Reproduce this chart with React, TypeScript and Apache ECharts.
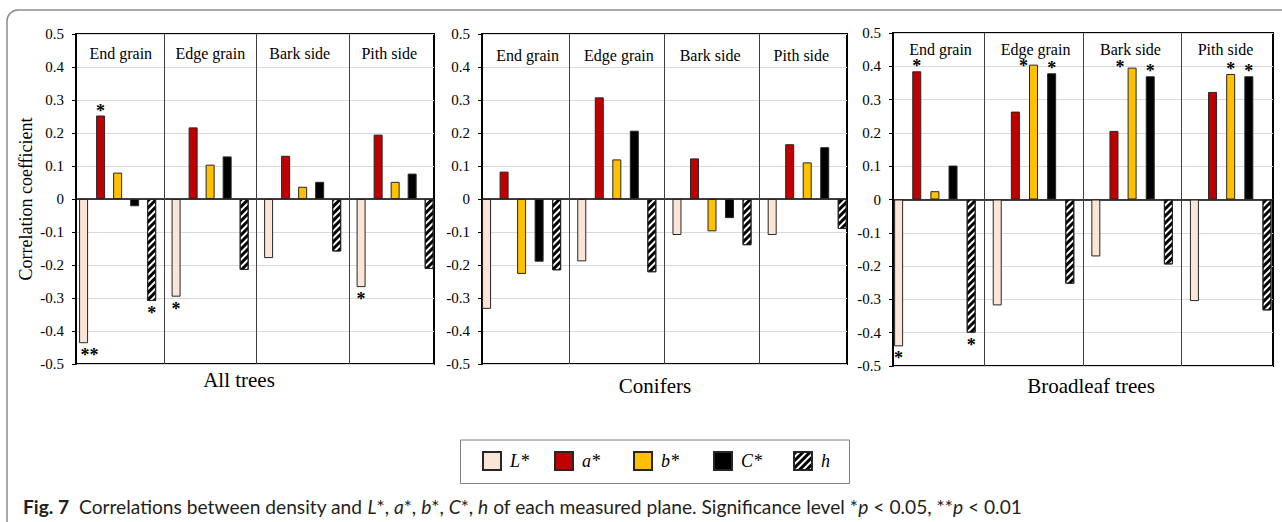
import React, { useEffect, useRef } from 'react';
import * as echarts from 'echarts';

// ---------- data ----------
const groups = ['End grain', 'Edge grain', 'Bark side', 'Pith side'];
const seriesNames = ['L*', 'a*', 'b*', 'C*', 'h'];
const panelTitles = ['All trees', 'Conifers', 'Broadleaf trees'];

// All trees
const allL = [-0.437, -0.296, -0.179, -0.267];
const allA = [0.253, 0.217, 0.131, 0.195];
const allB = [0.08, 0.104, 0.037, 0.052];
const allC = [-0.022, 0.129, 0.052, 0.077];
const allH = [-0.309, -0.215, -0.159, -0.212];
const allSig = [['**', '*', '', '*'], ['*', '', '', ''], ['', '', '', ''], ['', '', '', ''], ['*', '', '', '']];

// Conifers
const conL = [-0.333, -0.189, -0.109, -0.109];
const conA = [0.083, 0.308, 0.123, 0.166];
const conB = [-0.227, 0.12, -0.098, 0.111];
const conC = [-0.19, 0.207, -0.058, 0.157];
const conH = [-0.216, -0.222, -0.14, -0.091];
const conSig = [['', '', '', ''], ['', '', '', ''], ['', '', '', ''], ['', '', '', ''], ['', '', '', '']];

// Broadleaf trees
const brL = [-0.441, -0.318, -0.171, -0.305];
const brA = [0.385, 0.264, 0.206, 0.323];
const brB = [0.025, 0.405, 0.396, 0.377];
const brC = [0.102, 0.379, 0.37, 0.37];
const brH = [-0.4, -0.253, -0.195, -0.333];
const brSig = [['*', '', '', ''], ['*', '', '', ''], ['', '*', '*', '*'], ['', '*', '*', '*'], ['*', '', '', '']];

const yTicks = { min: -0.5, max: 0.5, step: 0.1 };

// ---------- styles ----------
const panels = [
  { values: [allL, allA, allB, allC, allH], sig: allSig, grid: { left: 76, top: 34, width: 358, height: 330 }, xr: [0.05, 3.92], labelMargin: 11, title: [239, 369] },
  { values: [conL, conA, conB, conC, conH], sig: conSig, grid: { left: 482, top: 34, width: 365, height: 330 }, xr: [0.084, 3.918], labelMargin: 13, title: [655, 375] },
  { values: [brL, brA, brB, brC, brH], sig: brSig, grid: { left: 893, top: 33, width: 380, height: 333 }, xr: [0.075, 3.929], labelMargin: 8, title: [1091, 375] },
];

const SERIF = 'Liberation Serif';
const barStep = 0.184;
const fills = ['#FBE5D6', '#C00000', '#FFC000', '#000000', '#ffffff'];
const hatch = {
  symbol: 'rect',
  symbolSize: 1,
  color: '#000',
  backgroundColor: '#fff',
  dashArrayX: [1, 0],
  dashArrayY: [2.5, 2],
  rotation: -Math.PI / 4,
};
const legendX = [482, 554, 633, 713, 793];
const legendBox = { x: 460.5, y: 440, width: 389, height: 43.5 };

// label shifts for a few asterisks [panel-series-group]
const starShift: Record<string, number[]> = {
  '0-0-0': [6, 0],
  '2-2-1': [-10, 6],
  '2-2-2': [-12, 4],
};

function buildOption() {
  const grid: any[] = [];
  const xAxis: any[] = [];
  const yAxis: any[] = [];
  const series: any[] = [];

  panels.forEach((p, pi) => {
    grid.push({ ...p.grid, show: true, borderColor: '#000', borderWidth: 2, backgroundColor: 'transparent' });
    xAxis.push({
      gridIndex: pi,
      type: 'value',
      min: p.xr[0],
      max: p.xr[1],
      axisLine: { show: true, onZero: true, lineStyle: { color: '#000', width: 1.5 } },
      axisTick: { show: false },
      axisLabel: { show: false },
      splitLine: { show: false },
    });
    xAxis.push({
      gridIndex: pi,
      type: 'category',
      data: groups,
      position: 'top',
      boundaryGap: true,
      axisLine: { show: false },
      axisTick: { show: false },
      splitLine: { show: false },
      axisLabel: { inside: true, interval: 0, margin: p.labelMargin, fontFamily: SERIF, fontSize: 16, color: '#000' },
    });
    yAxis.push({
      gridIndex: pi,
      type: 'value',
      min: yTicks.min,
      max: yTicks.max,
      interval: yTicks.step,
      name: pi === 0 ? 'Correlation coefficient' : '',
      nameLocation: 'middle',
      nameRotate: 90,
      nameGap: 41,
      nameTextStyle: { fontFamily: SERIF, fontSize: 18, color: '#000' },
      axisLine: { show: true, lineStyle: { color: '#000', width: 2 } },
      axisTick: { show: true, length: 4, lineStyle: { color: '#000' } },
      axisLabel: { fontFamily: SERIF, fontSize: 15, color: '#000', margin: 12 },
      splitLine: { show: true, lineStyle: { color: '#d9d9d9', width: 1 } },
    });

    p.values.forEach((vals, si) => {
      const data = vals.map((v, g) => {
        const s = p.sig[si][g];
        const shift = starShift[`${pi}-${si}-${g}`] || [0, 0];
        return {
          value: [g + 0.5 + (si - 2) * barStep, v],
          label: s
            ? {
                show: true,
                formatter: s,
                position: v < 0 ? 'bottom' : 'top',
                distance: v < 0 ? 7 : 0,
                offset: shift,
                fontFamily: SERIF,
                fontSize: 18,
                lineHeight: 10,
                fontWeight: 'bold',
                color: '#000',
              }
            : { show: false },
        };
      });
      const ser: any = {
        type: 'bar',
        name: seriesNames[si],
        xAxisIndex: pi * 2,
        yAxisIndex: pi,
        barWidth: 9,
        barGap: '-100%',
        silent: true,
        data,
        itemStyle: {
          color: fills[si],
          borderColor: '#262626',
          borderWidth: 1,
          ...(si === 4 ? { decal: hatch } : {}),
        },
      };
      if (si === 0) {
        ser.markLine = {
          silent: true,
          symbol: ['none', 'none'],
          label: { show: false },
          lineStyle: { color: '#404040', width: 1, type: 'solid' },
          data: groups.slice(1).map((_, i) => ({ xAxis: i + 1 })),
        };
      }
      series.push(ser);
    });
  });

  return {
    animation: false,
    backgroundColor: '#fff',
    title: panels.map((p, i) => ({
      text: panelTitles[i],
      left: p.title[0],
      top: p.title[1],
      padding: 0,
      textAlign: 'center',
      textStyle: { fontFamily: SERIF, fontSize: 21, fontWeight: 'normal', color: '#000' },
    })),
    legend: seriesNames.map((n, i) => ({
      data: [n],
      left: legendX[i],
      top: 451,
      padding: 0,
      icon: 'rect',
      itemWidth: 18,
      itemHeight: 18,
      selectedMode: false,
      textStyle: { fontFamily: SERIF, fontStyle: 'italic', fontSize: 18, color: '#000', padding: [0, 0, 0, 4] },
    })),
    grid,
    xAxis,
    yAxis,
    series,
    graphic: [
      {
        type: 'rect',
        shape: { x: 7, y: 10, width: 1400, height: 700, r: [11, 0, 0, 0] },
        style: { fill: 'none', stroke: '#8c8c8c', lineWidth: 1.5 },
        silent: true,
      },
      {
        type: 'rect',
        shape: legendBox,
        style: { fill: 'none', stroke: '#7f7f7f', lineWidth: 1 },
        silent: true,
      },
      {
        type: 'text',
        left: 23,
        top: 497,
        style: {
          text: '{b|Fig. 7}  Correlations between density and {i|L}*, {i|a}*, {i|b}*, {i|C}*, {i|h} of each measured plane. Significance level *{i|p} < 0.05, **{i|p} < 0.01',
          fontFamily: 'Lato',
          fontSize: 19.2,
          fill: '#231f20',
          rich: {
            b: { fontFamily: 'Lato', fontSize: 19.2, fontWeight: 'bold', fill: '#231f20' },
            i: { fontFamily: 'Lato', fontSize: 19.2, fontStyle: 'italic', fill: '#231f20' },
          },
        },
      },
    ],
  };
}

export default function App() {
  const ref = useRef<HTMLDivElement>(null);
  useEffect(() => {
    if (!ref.current) return;
    const chart = echarts.init(ref.current, undefined, { renderer: 'svg' });
    chart.setOption(buildOption() as any);
    return () => chart.dispose();
  }, []);
  return <div ref={ref} style={{ position: 'fixed', left: 0, top: 0, width: 1282, height: 522 }} />;
}
